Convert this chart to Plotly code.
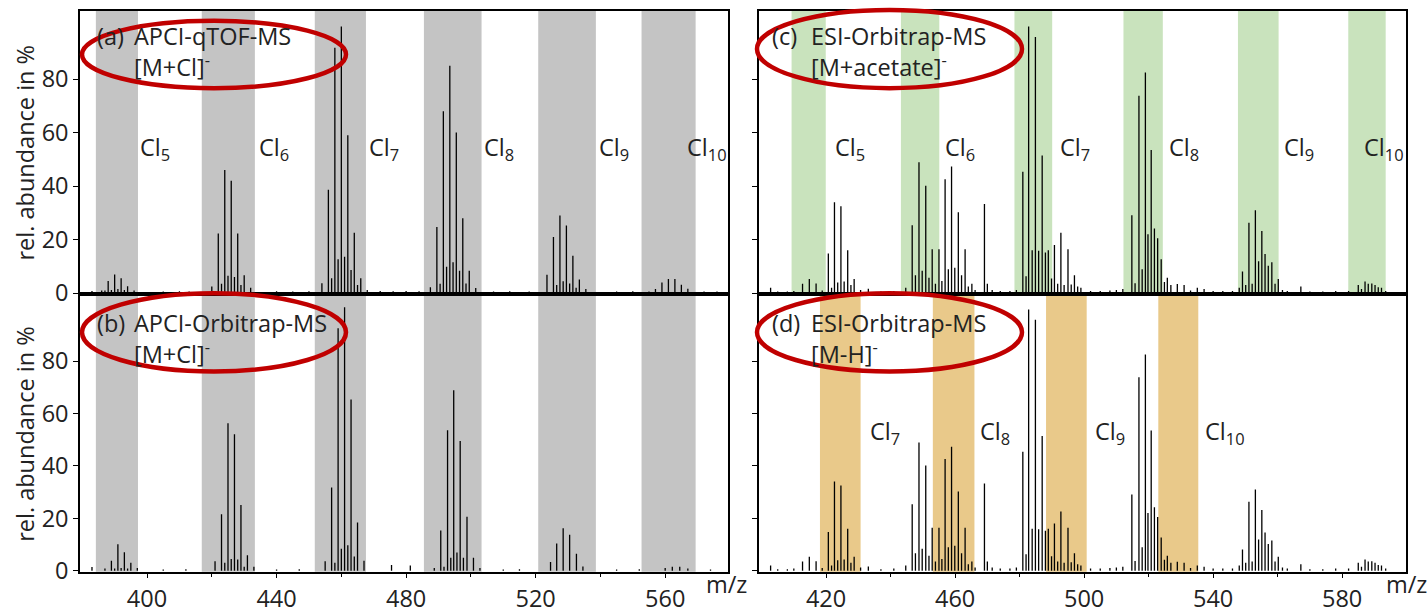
import plotly.graph_objects as go

# ---------------- data ----------------
# (a) APCI-qTOF-MS [M+Cl]-
mz_a = [383, 386, 387, 388, 389, 390, 391, 392, 393, 394, 396,
        405, 410, 413,
        420, 422, 423, 424, 425, 426, 427, 428, 429, 430, 432,
        440, 445, 450,
        454, 456, 457, 458, 459, 460, 461, 462, 463, 464, 465, 466, 468,
        472, 476, 480, 484,
        487.5, 489.5, 490.5, 491.5, 492.5, 493.5, 494.5, 495.5, 496.5, 497.5, 498.5, 499.5, 501.5,
        507, 512, 518,
        523.5, 525.5, 526.5, 527.5, 528.5, 529.5, 530.5, 531.5, 532.5, 533.5, 535.5,
        545, 550, 555,
        557, 559, 561, 563, 565, 567, 572, 576]
ab_a = [0.8, 1.0, 1.0, 4.5, 1.2, 7.0, 1.5, 5.6, 1.2, 2.6, 1.0,
        0.6, 0.7, 0.6,
        2.5, 22.3, 3.5, 46.0, 6.5, 42.0, 6.0, 22.3, 3.0, 6.7, 2.0,
        0.7, 0.6, 0.7,
        3.7, 38.6, 5.6, 91.7, 12.7, 99.7, 13.6, 59.0, 8.6, 22.6, 3.0, 5.6, 1.2,
        0.8, 0.7, 0.8, 0.7,
        2.2, 24.7, 3.5, 68.0, 9.9, 85.0, 11.5, 60.0, 8.4, 28.0, 3.6, 8.4, 1.9,
        0.6, 0.7, 0.6,
        6.9, 21.0, 3.0, 29.0, 4.4, 25.3, 3.6, 14.0, 2.0, 5.1, 1.5,
        0.6, 0.7, 0.6,
        1.5, 4.0, 5.3, 5.3, 3.1, 1.6, 0.6, 0.6]

# (b) APCI-Orbitrap-MS [M+Cl]-
mz_b = [383, 387, 389, 390, 391, 392, 393, 394, 395, 397,
        405, 412,
        421, 423, 424, 425, 426, 427, 428, 429, 430, 431, 433,
        440, 447,
        455, 457, 458, 459, 460, 461, 462, 463, 464, 465, 467,
        475.5, 481.3,
        488.7, 490.7, 491.7, 492.8, 493.8, 494.7, 495.7, 496.7, 497.7, 498.8, 500.8, 502.8,
        510, 515,
        524.6, 526.5, 528.5, 530.5, 532.6, 534.6,
        545, 552,
        560, 562.2, 564.5, 567, 574]
ab_b = [1.4, 0.8, 3.8, 0.8, 10.1, 1.0, 7.0, 0.8, 3.0, 1.0,
        0.5, 0.6,
        3.6, 21.5, 3.0, 56.3, 4.5, 52.1, 4.3, 25.1, 1.5, 5.9, 1.5,
        0.5, 0.6,
        3.6, 31.7, 3.0, 92.5, 8.4, 100.5, 9.7, 65.3, 5.4, 18.4, 3.8,
        2.2, 2.0,
        1.0, 15.3, 1.5, 53.6, 4.9, 68.8, 6.9, 49.5, 4.9, 20.6, 4.9, 1.0,
        0.5, 0.6,
        3.3, 10.4, 16.2, 13.7, 6.5, 1.6,
        0.5, 0.6,
        1.0, 1.5, 1.5, 0.8, 0.5]

# (c)/(d) ESI-Orbitrap-MS (same spectrum, different highlighted adducts)
mz_c = [402.8, 405, 408, 410,
        412.7, 414.8, 416.9, 418.8, 420.7, 421.7, 422.6, 423.6, 424.6, 425.6, 426.7, 427.7, 428.7, 430.7, 433.1,
        437, 441,
        444.7, 446.7, 447.7, 448.8, 449.8, 450.9, 451.9, 452.9, 453.9, 455.0, 455.9, 456.9, 457.9, 458.9,
        459.9, 461.0, 462.0, 463.1, 464.1, 465.2, 466.2,
        469.1, 470.0, 471.5, 474, 477, 479,
        481.0, 482.0, 482.8, 483.9, 484.9, 485.9, 487.0, 488.0, 488.9, 489.9, 490.8, 491.8, 492.8, 493.8,
        495.0, 496.0, 497.0, 498.0, 499.0,
        502, 505, 508, 510, 512,
        514.8, 515.8, 517.0, 518.0, 519.0, 519.8, 520.8, 521.8, 522.8, 523.9, 524.9, 525.8, 526.9, 528.9,
        531.0, 533.0, 535.1, 537.2,
        540, 543, 546,
        548.1, 549.1, 550.1, 551.1, 552.1, 553.1, 554.1, 555.1, 556.1, 557.1, 558.2, 559.2, 560.2, 561.5,
        563, 567.2,
        570, 574, 578, 582,
        585.0, 586.0, 587.1, 588.1, 589.2, 590.2, 591.2, 592.2, 593.5]
ab_c = [2.0, 0.6, 0.6, 0.8,
        3.5, 5.3, 3.6, 1.0, 14.8, 2.0, 34.0, 4.0, 32.5, 4.3, 16.0, 3.0, 5.3, 1.2, 1.6,
        0.6, 0.8,
        2.0, 25.4, 6.7, 48.9, 8.4, 40.1, 5.7, 16.4, 3.5, 16.4, 4.5, 42.6, 8.9, 47.3,
        9.5, 30.2, 6.7, 16.4, 2.5, 3.5, 1.2,
        33.3, 3.5, 1.2, 0.8, 0.8, 1.2,
        45.4, 6.3, 99.7, 16.0, 95.7, 15.8, 51.4, 15.2, 16.0, 5.5, 18.0, 3.5, 22.6, 3.0,
        16.4, 3.2, 6.7, 2.5, 2.0,
        0.8, 0.8, 1.0, 1.2, 1.5,
        29.1, 3.7, 73.8, 8.9, 82.5, 22.0, 53.5, 24.2, 20.5, 12.7, 4.2, 5.7, 3.0, 3.4,
        3.0, 1.0, 2.0, 1.5,
        0.8, 0.8, 0.8,
        2.0, 8.1, 3.0, 26.3, 3.5, 31.0, 11.9, 23.2, 14.6, 10.2, 11.5, 3.5, 5.3, 1.2,
        0.8, 2.5,
        0.6, 0.6, 0.8, 0.8,
        3.0, 1.5, 4.3, 3.5, 3.6, 3.0, 2.2, 2.0, 0.8]

# highlighted m/z windows
band_ab_start = [384.2, 416.9, 451.8, 485.5, 520.8, 552.7]
band_ab_end = [397.2, 433.3, 467.6, 503.3, 538.6, 569.4]
band_c_start = [409.3, 443.2, 478.4, 512.2, 547.7, 581.9]
band_c_end = [419.9, 455.1, 490.1, 524.4, 560.3, 593.5]
band_d_start = [418.1, 453.1, 488.2, 523.0]
band_d_end = [430.7, 466.0, 500.8, 535.4]

# congener labels
lab_a = ["5", "6", "7", "8", "9", "10"]
lab_a_x = [397.2, 433.9, 467.9, 503.4, 538.9, 566.0]
lab_c = ["5", "6", "7", "8", "9", "10"]
lab_c_x = [422.2, 456.3, 491.9, 525.7, 561.4, 586.2]
lab_d = ["7", "8", "9", "10"]
lab_d_x = [433.0, 467.1, 502.8, 537.0]

xticks_left = [400, 440, 480, 520, 560]
xticks_right = [420, 460, 500, 540, 580]
yticks = [0, 20, 40, 60, 80]

# ---------------- figure ----------------
W, H = 1427, 614
K = 0.9767          # vertical correction measured for the capture
FONT = "Open Sans"
TXT = "#222222"
FS = 23.5


def px(x):
    return x / W


def py(y):
    # y given in reference-picture pixels
    return 1 - (y / K) / H


def pyd(yd):
    # y given directly in layout pixels
    return 1 - yd / H


def sticks(mz, ab):
    xs, ys = [], []
    for m, a in zip(mz, ab):
        xs += [m, m, None]
        ys += [0, a, None]
    return xs, ys


fig = go.Figure()
for mz, ab, k in [(mz_a, ab_a, ""), (mz_b, ab_b, "2"), (mz_c, ab_c, "3"), (mz_c, ab_c, "4")]:
    xs, ys = sticks(mz, ab)
    fig.add_trace(go.Scatter(x=xs, y=ys, mode="lines", line=dict(color="black", width=1.3),
                             xaxis="x" + k, yaxis="y" + k, showlegend=False, hoverinfo="skip"))

shapes = []


def add_bands(starts, ends, k, color):
    for s, e in zip(starts, ends):
        shapes.append(dict(type="rect", xref="x" + k, yref="y" + k + " domain", x0=s, x1=e, y0=0, y1=1,
                           fillcolor=color, line=dict(width=0), layer="below"))


add_bands(band_ab_start, band_ab_end, "", "#c4c4c4")
add_bands(band_ab_start, band_ab_end, "2", "#c4c4c4")
add_bands(band_c_start, band_c_end, "3", "#c9e3bd")
add_bands(band_d_start, band_d_end, "4", "#e9c98a")

# red ellipses around the panel titles
for x0, x1, y0, y1 in [(82, 346, 21, 89), (82, 346, 296, 375), (757, 1022, 10, 89), (757, 1022, 296, 375)]:
    shapes.append(dict(type="circle", xref="paper", yref="paper", x0=px(x0), x1=px(x1), y0=py(y1), y1=py(y0),
                       line=dict(color="#c00000", width=4.5), layer="above"))

ann = []
fnt = dict(family=FONT, size=FS, color=TXT)


def label(k, xs, nums, y):
    for x, n in zip(xs, nums):
        ann.append(dict(xref="x" + k, yref="y" + k, x=x, y=y, text="Cl<sub>" + n + "</sub>",
                        showarrow=False, xanchor="left", yanchor="middle", font=fnt))


label("", lab_a_x, lab_a, 54)
label("3", lab_c_x, lab_c, 54)
label("4", lab_d_x, lab_d, 52.6)


def ptext(x, yfrac, text, **kw):
    d = dict(xref="paper", yref="paper", x=px(x), y=yfrac, text=text, showarrow=False,
             xanchor="left", yanchor="top", align="left", font=fnt)
    d.update(kw)
    ann.append(d)


ptext(95, py(18), "(a)")
ptext(132, py(18), "APCI-qTOF-MS<br>[M+Cl]<sup>-</sup>")
ptext(95, py(308), "(b)")
ptext(132, py(308), "APCI-Orbitrap-MS<br>[M+Cl]<sup>-</sup>")
ptext(770, py(18), "(c)")
ptext(809, py(18), "ESI-Orbitrap-MS<br>[M+acetate]<sup>-</sup>")
ptext(770, py(308), "(d)")
ptext(809, py(308), "ESI-Orbitrap-MS<br>[M-H]<sup>-</sup>")
ptext(704, pyd(604), "m/z", yanchor="middle")
ptext(1384, pyd(604), "m/z", yanchor="middle")
ptext(25, py(154), "rel. abundance in %", xanchor="center", yanchor="middle", textangle=-90)
ptext(25, py(438), "rel. abundance in %", xanchor="center", yanchor="middle", textangle=-90)

common_x = dict(showline=True, mirror=True, linecolor="black", linewidth=1.5, showgrid=False,
                zeroline=False, tickfont=fnt, tickcolor="black")
common_y = dict(showline=True, mirror=True, linecolor="black", linewidth=1.5, showgrid=False,
                zeroline=False, range=[-0.4, 105.5], tickvals=yticks, ticks="outside", ticklen=5,
                tickfont=fnt, tickcolor="black")

LX = [px(80), px(728)]
RX = [px(759), px(1406)]
TY = [py(297), py(11)]
BY = [pyd(591), py(297)]

fig.update_layout(
    width=W, height=H, margin=dict(l=0, r=0, t=0, b=0, pad=0),
    paper_bgcolor="white", plot_bgcolor="white", showlegend=False,
    font=dict(family=FONT, color=TXT),
    xaxis=dict(common_x, domain=LX, anchor="y", range=[379.3, 579.4], showticklabels=False, ticks=""),
    yaxis=dict(common_y, domain=TY, anchor="x"),
    xaxis2=dict(common_x, domain=LX, anchor="y2", range=[379.3, 579.4], tickvals=xticks_left,
                ticks="outside", ticklen=5,
                minor=dict(tickvals=[420, 460, 500, 540], ticks="outside", ticklen=4, tickcolor="black")),
    yaxis2=dict(common_y, domain=BY, anchor="x2"),
    xaxis3=dict(common_x, domain=RX, anchor="y3", range=[399.2, 599.8], showticklabels=False, ticks=""),
    yaxis3=dict(common_y, domain=TY, anchor="x3", showticklabels=False),
    xaxis4=dict(common_x, domain=RX, anchor="y4", range=[399.2, 599.8], tickvals=xticks_right,
                ticks="outside", ticklen=5,
                minor=dict(tickvals=[440, 480, 520, 560], ticks="outside", ticklen=4, tickcolor="black")),
    yaxis4=dict(common_y, domain=BY, anchor="x4", showticklabels=False),
    shapes=shapes, annotations=ann,
)

fig.write_html(
    "out.html",
    config={"displayModeBar": False},
    post_script=("document.documentElement.style.margin='0';document.body.style.margin='0';"
                 "document.documentElement.style.overflow='hidden';document.body.style.overflow='hidden';"),
)
